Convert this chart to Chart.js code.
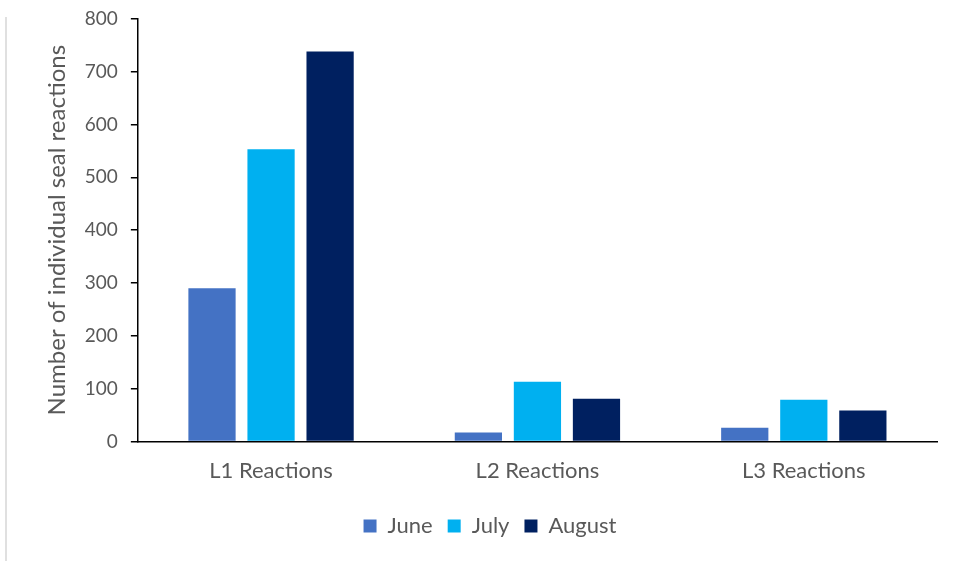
<!DOCTYPE html>
<html>
<head>
<meta charset="utf-8">
<script src="https://cdn.jsdelivr.net/npm/chart.js@4/dist/chart.umd.min.js"></script>
<style>
  html, body { margin: 0; padding: 0; background: #fff; }
  #wrap { position: relative; width: 955px; height: 561px; }
  #edge { position: absolute; left: 5px; top: 17px; bottom: 0; border-left: 2px solid #e0e0e0; }
  canvas { position: absolute; left: 0; top: 0; }
</style>
</head>
<body>
<div id="wrap">
  <div id="edge"></div>
  <canvas id="reactionsChart" width="955" height="561"></canvas>
</div>
<script>
  var categories = ["L1 Reactions", "L2 Reactions", "L3 Reactions"];
  var june = [290, 17, 26];
  var july = [553, 113, 79];
  var august = [738, 81, 59];
  var yTicks = [0, 100, 200, 300, 400, 500, 600, 700, 800];

  var textColor = "#595959";
  var fontFamily = "Lato, 'Open Sans', sans-serif";

  Chart.defaults.font.family = fontFamily;
  Chart.defaults.color = textColor;

  var ctx = document.getElementById("reactionsChart");
  new Chart(ctx, {
    type: 'bar',
    data: {
      labels: categories,
      datasets: [
        { label: "June", data: june, backgroundColor: "#4472c4" },
        { label: "July", data: july, backgroundColor: "#00b0f0" },
        { label: "August", data: august, backgroundColor: "#002060" }
      ]
    },
    options: {
      responsive: false,
      animation: false,
      categoryPercentage: 0.665,
      barPercentage: 0.8,
      layout: { padding: { left: 43, right: 18, top: 1, bottom: 14 } },
      plugins: {
        tooltip: { enabled: false },
        legend: {
          position: 'bottom',
          labels: {
            boxWidth: 13,
            boxHeight: 13,
            padding: 15,
            font: { size: 22 },
            color: textColor
          }
        }
      },
      scales: {
        x: {
          grid: { display: false, drawTicks: false },
          border: { color: "#000", width: 1.5 },
          ticks: { font: { size: 22 }, color: textColor, padding: 16 }
        },
        y: {
          min: 0,
          max: 800,
          afterBuildTicks: function(axis) {
            axis.ticks = yTicks.map(function(v) { return { value: v }; });
          },
          grid: { drawOnChartArea: false, drawTicks: true, tickLength: 7, color: "#000", lineWidth: 1.5 },
          border: { color: "#000", width: 1.5 },
          // small lineHeight keeps the top label from pushing the plot down
          ticks: { font: { size: 19, lineHeight: 0.6 }, color: textColor, padding: 13 },
          title: {
            display: true,
            text: "Number of individual seal reactions",
            font: { size: 24 },
            color: textColor,
            padding: { top: 0, bottom: 0 }
          }
        }
      }
    }
  });
</script>
</body>
</html>
